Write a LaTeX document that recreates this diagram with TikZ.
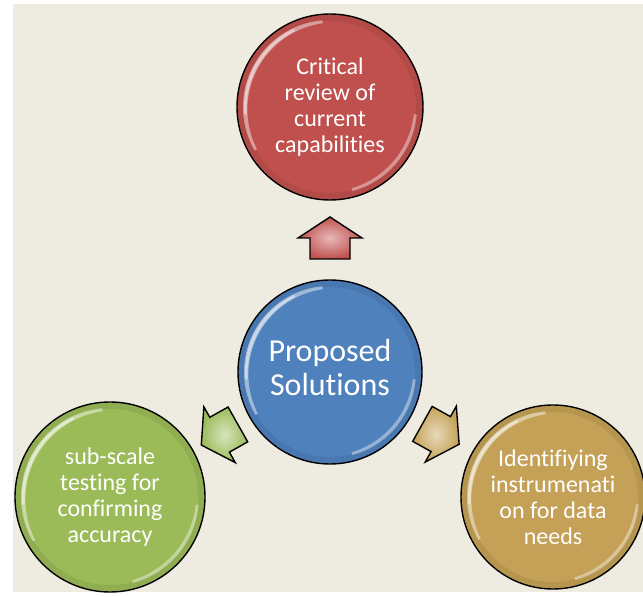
\documentclass[tikz,border=0pt]{standalone}
\usepackage{fontspec}
\setmainfont[Ligatures=NoCommon]{Carlito}
\usetikzlibrary{calc}

\definecolor{paper}{HTML}{EEEBE1}
\definecolor{redball}{HTML}{C0504D}
\definecolor{blueball}{HTML}{4F81BD}
\definecolor{greenball}{HTML}{9BBB59}
\definecolor{goldball}{HTML}{C4A156}

\tikzset{
  ball/.style={circle, draw=black, line width=1.4pt, fill=#1, text=white,
    align=center, inner sep=0pt, font=\fontsize{24}{26}\selectfont},
  arrowbody/.style={draw=black, line width=1.4pt, line join=miter,
    inner color=#1!40!white, outer color=#1},
  blockarrow/.pic={
    \path[arrowbody=#1] (21,0) -- (0,32) -- (0,20) -- (-21,20) -- (-21,-20)
      -- (0,-20) -- (0,-32) -- cycle;
  },
}

% soft rim and glossy crescents on a ball of radius #2
\newcommand\glossball[2]{%
  \draw[black, opacity=.07, line width=6pt] (#1.center) circle[radius=#2-4];
  \begin{scope}
    \clip (#1.center) -- ++(95:#2) arc[start angle=95, end angle=210, radius=#2] -- cycle;
    \fill[white, opacity=.45, even odd rule]
      (#1.center) circle[radius=#2-6] ($(#1.center)+(-30:5)$) circle[radius=#2-6];
  \end{scope}
  \begin{scope}
    \clip (#1.center) -- ++(115:#2) arc[start angle=115, end angle=185, radius=#2] -- cycle;
    \fill[white, opacity=.45, even odd rule]
      (#1.center) circle[radius=#2-7] ($(#1.center)+(-30:3)$) circle[radius=#2-7];
  \end{scope}
  \begin{scope}
    \clip (#1.center) -- ++(-75:#2) arc[start angle=-75, end angle=-5, radius=#2] -- cycle;
    \fill[white, opacity=.4, even odd rule]
      (#1.center) circle[radius=#2-6] ($(#1.center)+(140:3.5)$) circle[radius=#2-6];
  \end{scope}
}

\begin{document}
\begin{tikzpicture}[x=1pt, y=1pt]
  % page and backdrop
  \fill[white] (0,0) rectangle (643,597);
  \fill[paper] (13,5) rectangle (643,593);
  \useasboundingbox (0,0) rectangle (643,597);

  % the four balls
  \node[ball=blueball, minimum size=184pt, font=\fontsize{32}{34}\selectfont]
    (hub) at (330,225)
    {\raisebox{6pt}{\begin{tabular}{@{}c@{}}Proposed\\Solutions\end{tabular}}};
  \node[ball=redball, minimum size=186pt] (crit) at (330,490)
    {Critical\\review of\\current\\capabilities};
  \node[ball=greenball, minimum size=190pt] (subscale) at (110,100)
    {sub-scale\\testing for\\confirming\\accuracy};
  \node[ball=goldball, minimum size=184pt] (instr) at (553,100)
    {Identifiying\\instrumenati\\on for data\\needs};

  \glossball{hub}{92}
  \glossball{crit}{93}
  \glossball{subscale}{95}
  \glossball{instr}{92}

  % arrows from the hub to each outer ball
  \pic[rotate=90] at ($(hub)!134pt!(crit)$) {blockarrow=redball};
  \pic[rotate=209.4] at ($(hub)!127pt!(subscale)$) {blockarrow=greenball};
  \pic[rotate=-29.1] at ($(hub)!127pt!(instr)$) {blockarrow=goldball};
\end{tikzpicture}
\end{document}
